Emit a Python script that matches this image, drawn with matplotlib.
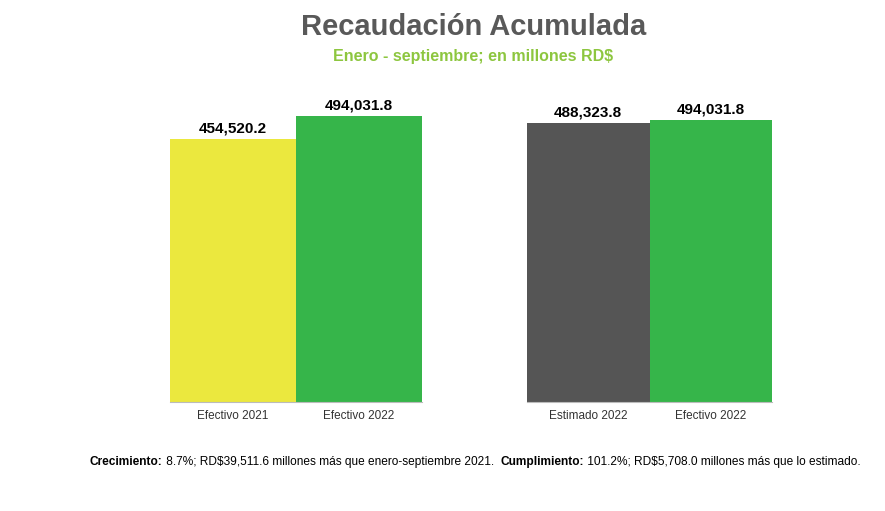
import matplotlib
matplotlib.use("Agg")
import matplotlib.pyplot as plt
from matplotlib import font_manager as fm

names = {f.name for f in fm.fontManager.ttflist}
FONT = "Liberation Sans Narrow" if "Liberation Sans Narrow" in names else "Liberation Sans"
plt.rcParams["font.family"] = FONT

left_cats = ["Efectivo 2021", "Efectivo 2022"]
left_vals = [454520.2, 494031.8]
left_labels = ["454,520.2", "494,031.8"]
left_colors = ["#ebe83e", "#36b54a"]

right_cats = ["Estimado 2022", "Efectivo 2022"]
right_vals = [488323.8, 494031.8]
right_labels = ["488,323.8", "494,031.8"]
right_colors = ["#555555", "#36b54a"]

W, H = 885, 511
fig = plt.figure(figsize=(W/100, H/100), dpi=100)

def panel(x0, x1, ytop, cats, vals, labels, colors):
    ax = fig.add_axes([x0/W, 1-402/H, (x1-x0)/W, (402-ytop)/H])
    ax.bar(range(len(vals)), vals, width=1.0, color=colors)
    ax.set_xlim(-0.5, len(vals)-0.5)
    ax.set_ylim(0, max(vals))
    for i, (v, l) in enumerate(zip(vals, labels)):
        ax.text(i, v + max(vals)*0.012, l, ha="center", va="bottom",
                fontsize=11, fontweight="bold", clip_on=False)
    ax.set_xticks(range(len(cats)))
    ax.set_xticklabels(cats, fontsize=8.5, color="#333333")
    ax.tick_params(axis="x", length=0, pad=6)
    ax.set_yticks([])
    for s in ["top", "left", "right"]:
        ax.spines[s].set_visible(False)
    ax.spines["bottom"].set_color("#bbbbbb")

panel(170, 422, 116, left_cats, left_vals, left_labels, left_colors)
panel(527, 772, 120, right_cats, right_vals, right_labels, right_colors)

fig.text(0.535, 1-27/H, "Recaudación Acumulada", ha="center", va="center",
         fontsize=21, fontweight="bold", color="#595959")
fig.text(0.535, 1-57/H, "Enero - septiembre; en millones RD$", ha="center", va="center",
         fontsize=11.5, fontweight="bold", color="#8dc63f")

y = 1-462/H
fs = 8.6
t1 = fig.text(90/W, y, "Crecimiento:", fontsize=fs, fontweight="bold", va="center")
fig.canvas.draw()
r = fig.canvas.get_renderer()
def after(t, s, bold=False):
    bb = t.get_window_extent(r)
    return fig.text(bb.x1/W, y, s, fontsize=fs, fontweight="bold" if bold else "normal", va="center")
t2 = after(t1, " 8.7%; RD$39,511.6 millones más que enero-septiembre 2021.  ")
t3 = after(t2, "Cumplimiento:", True)
t4 = after(t3, " 101.2%; RD$5,708.0 millones más que lo estimado.")

fig.savefig("out.png", dpi=100, facecolor="white")
